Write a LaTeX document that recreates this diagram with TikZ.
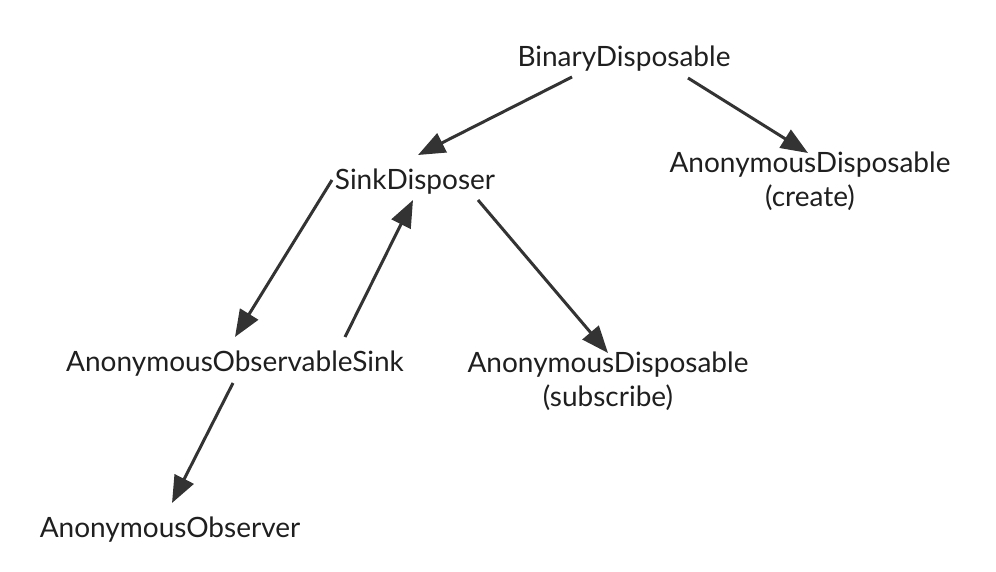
\documentclass[tikz,border=0pt]{standalone}
\usepackage{fontspec}
\setmainfont{Lato}
\usetikzlibrary{arrows.meta}

\begin{document}
\begin{tikzpicture}[x=1pt, y=-1pt,
		label/.style={inner sep=0pt, font=\fontsize{28}{34}\selectfont, text=black!88, align=center},
		link/.style={line width=3pt, draw=black!80, -{Triangle[length=27pt, width=21pt]}}]
		%%%%% START %%%%%
		
		\useasboundingbox (0, 0) rectangle (996, 572);
		
		\node[label, anchor=base] (binary) at (624, 67) {BinaryDisposable};
		\node[label, anchor=base] (sink) at (415, 190) {SinkDisposer};
		\node[label, anchor=north] (create) at (810, 152) {AnonymousDisposable\\(create)};
		\node[label, anchor=base] (obsink) at (235, 371) {AnonymousObservableSink};
		\node[label, anchor=north] (subscribe) at (608, 352) {AnonymousDisposable\\(subscribe)};
		\node[label, anchor=base] (observer) at (170, 537) {AnonymousObserver};
		
		\draw[link] ([xshift=-52pt, yshift=-10pt]binary.base) -- ([xshift=3pt, yshift=35pt]sink.base);
		\draw[link] ([xshift=64pt, yshift=-11pt]binary.base) -- ([xshift=-2pt, yshift=-1pt]create.north);
		
		\draw[link] ([xshift=-83pt, yshift=10pt]sink.base) -- ([yshift=34pt]obsink.base);
		\draw[link] ([xshift=110pt, yshift=34pt]obsink.base) -- ([xshift=-2pt, yshift=-10pt]sink.base);
		\draw[link] ([xshift=63pt, yshift=-10pt]sink.base) -- ([yshift=-1pt]subscribe.north);
		
		\draw[link] ([xshift=-2pt, yshift=-12pt]obsink.base) -- ([xshift=2pt, yshift=34pt]observer.base);
		
		%%%%% END %%%%%
	\end{tikzpicture}
\end{document}
